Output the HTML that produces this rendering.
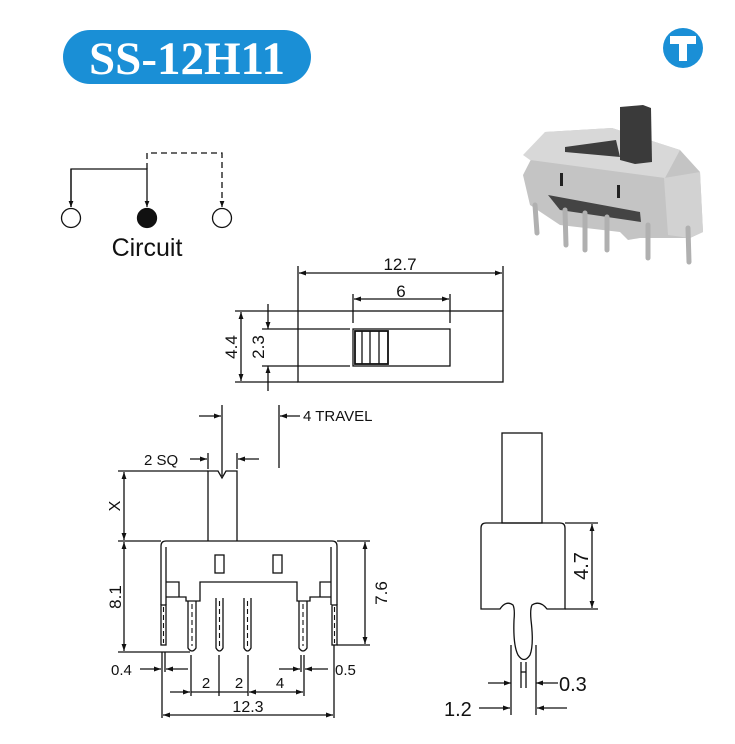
<!DOCTYPE html>
<html><head><meta charset="utf-8"><style>
html,body{margin:0;padding:0;background:#fff}
svg{display:block}
text{font-family:"Liberation Sans",Arial,sans-serif;fill:#111}
</style></head><body>
<svg width="735" height="744" viewBox="0 0 735 744" xmlns="http://www.w3.org/2000/svg">
<defs>
<marker id="a" viewBox="0 0 10 10" refX="10" refY="5" markerWidth="9" markerHeight="7" markerUnits="userSpaceOnUse" orient="auto-start-reverse"><path d="M0,1.5 L10,5 L0,8.5 z" fill="#111"/></marker>
<marker id="s" viewBox="0 0 10 10" refX="10" refY="5" markerWidth="6" markerHeight="6" markerUnits="userSpaceOnUse" orient="auto"><path d="M0,1 L10,5 L0,9 z" fill="#111"/></marker>
</defs>
<rect x="63" y="30" width="248" height="54" rx="27" fill="#1a8fd6"/>
<text x="187" y="74" text-anchor="middle" style="font-family:'Liberation Serif',serif;font-weight:bold;font-size:47px;fill:#fff">SS-12H11</text>
<circle cx="683" cy="48" r="20" fill="#1a8fd6"/>
<path d="M670,36 H696 V44 H687 V61 H679 V44 H670 z" fill="#fff"/>

<g stroke="#111" stroke-width="1.3" fill="none">
<polyline points="71,207 71,169 147,169 147,207" marker-end="url(#s)"/>
<line x1="71" y1="169" x2="71" y2="207" marker-end="url(#s)"/>
<polyline points="147,169 147,153 222,153 222,207" stroke-dasharray="6,4" marker-end="url(#s)"/>
<circle cx="71" cy="218" r="9.5"/>
<circle cx="222" cy="218" r="9.5"/>
<circle cx="147" cy="218" r="9.5" fill="#111"/>
</g>
<text x="147" y="256" text-anchor="middle" font-size="25">Circuit</text>

<!-- photo -->
<g>
<path d="M545,132 L612,128 L680,150 L700,172 L703,232 L690,238 L640,238 L628,240 L620,232 L560,225 L530,205 L523,175 Z" fill="#c4c4c4"/>
<path d="M545,132 L612,128 L680,150 L665,178 L530,160 L523,155 Z" fill="#d8d8d8"/>
<path d="M565,147 L616,140 L620,157 L565,152 Z" fill="#3d3d3d"/>
<path d="M620,107 L643,105 L651,108 L652,162 L635,164 L620,160 Z" fill="#3a3a3a"/>
<path d="M664,178 L700,172 L703,232 L690,238 L668,235 Z" fill="#d2d2d2"/>
<path d="M548,195 L640,212 L641,222 L560,210 Z" fill="#444"/>
<rect x="560" y="173" width="3" height="13" fill="#222"/>
<rect x="617" y="185" width="3" height="13" fill="#222"/>
<g stroke="#b0b0b0" stroke-width="5" stroke-linecap="round" fill="none">
<line x1="535" y1="205" x2="537" y2="233"/>
<line x1="565" y1="210" x2="566" y2="245"/>
<line x1="585" y1="213" x2="585" y2="250"/>
<line x1="607" y1="217" x2="607" y2="250"/>
<line x1="648" y1="225" x2="648" y2="258"/>
<line x1="688" y1="228" x2="689" y2="262"/>
</g>
</g>

<g stroke="#111" stroke-width="1.3" fill="none">
<rect x="298" y="311" width="205" height="71"/>
<rect x="353" y="329" width="97" height="37"/>
<rect x="355" y="331" width="33" height="33" stroke-width="1.8"/>
<line x1="362" y1="331" x2="362" y2="364"/><line x1="370" y1="331" x2="370" y2="364"/><line x1="379" y1="331" x2="379" y2="364"/>
<line x1="298" y1="266" x2="298" y2="311"/><line x1="503" y1="266" x2="503" y2="311"/>
<line x1="299" y1="273" x2="502" y2="273" marker-start="url(#a)" marker-end="url(#a)"/>
<line x1="353" y1="294" x2="353" y2="323"/><line x1="450" y1="294" x2="450" y2="323"/>
<line x1="354" y1="299" x2="449" y2="299" marker-start="url(#a)" marker-end="url(#a)"/>
<line x1="235" y1="311" x2="298" y2="311"/><line x1="235" y1="382" x2="298" y2="382"/>
<line x1="241" y1="312" x2="241" y2="381" marker-start="url(#a)" marker-end="url(#a)"/>
<line x1="262" y1="329" x2="350" y2="329"/><line x1="262" y1="366" x2="350" y2="366"/>
<line x1="268" y1="304" x2="268" y2="329" marker-end="url(#a)"/>
<line x1="268" y1="391" x2="268" y2="366" marker-end="url(#a)"/>

<path d="M208,541 V471 L218,471 L222,478 L226,471 L237,471 V541"/>
<line x1="222" y1="405" x2="222" y2="476"/>
<line x1="279" y1="405" x2="279" y2="468"/>
<line x1="199" y1="416" x2="221" y2="416" marker-end="url(#a)"/>
<line x1="300" y1="416" x2="280" y2="416" marker-end="url(#a)"/>
<line x1="190" y1="459" x2="207" y2="459" marker-end="url(#a)"/>
<line x1="259" y1="459" x2="238" y2="459" marker-end="url(#a)"/>
<line x1="208" y1="453" x2="208" y2="469"/><line x1="237" y1="453" x2="237" y2="469"/>
<path d="M161,605 V546 Q161,541 166,541 H332 Q337,541 337,546 V605"/>
<path d="M166,605 V547 M331,605 V547"/>
<path d="M166,582 H179 V597 H186 V601 H200 V582 H297 V601 H310 V597 H320 V582 H331 M166,597 H186 M310,597 H331 M320,597 V582"/>
<rect x="215" y="555" width="9" height="18"/>
<rect x="273" y="555" width="9" height="18"/>
<rect x="161" y="605" width="5" height="40"/>
<rect x="332" y="605" width="5" height="40"/>
<path d="M188,601 V648 Q192,654 196,648 V601"/>
<path d="M216,598 V648 Q219.5,654 223,648 V598"/>
<path d="M244,598 V648 Q247.5,654 251,648 V598"/>
<path d="M299,601 V648 Q303,654 307,648 V601"/>
<g stroke-dasharray="5,3" stroke-width="1.1">
<line x1="163.5" y1="607" x2="163.5" y2="643"/><line x1="334.5" y1="607" x2="334.5" y2="643"/>
<line x1="192" y1="604" x2="192" y2="646"/><line x1="219.5" y1="601" x2="219.5" y2="646"/>
<line x1="247.5" y1="601" x2="247.5" y2="646"/><line x1="303" y1="604" x2="303" y2="646"/>
</g>
<line x1="118" y1="471" x2="208" y2="471"/>
<line x1="118" y1="541" x2="161" y2="541"/>
<line x1="118" y1="652" x2="190" y2="652"/>
<line x1="124" y1="472" x2="124" y2="540" marker-start="url(#a)" marker-end="url(#a)"/>
<line x1="124" y1="542" x2="124" y2="651" marker-start="url(#a)" marker-end="url(#a)"/>
<line x1="337" y1="541" x2="370" y2="541"/>
<line x1="337" y1="645" x2="370" y2="645"/>
<line x1="365" y1="542" x2="365" y2="644" marker-start="url(#a)" marker-end="url(#a)"/>
<line x1="162" y1="652" x2="162" y2="718"/><line x1="165" y1="652" x2="165" y2="672"/>
<line x1="191" y1="655" x2="191" y2="696"/><line x1="219" y1="655" x2="219" y2="696"/>
<line x1="248" y1="655" x2="248" y2="696"/><line x1="304" y1="655" x2="304" y2="696"/>
<line x1="301" y1="655" x2="301" y2="672"/>
<line x1="334" y1="645" x2="334" y2="718"/>
<line x1="140" y1="669" x2="161" y2="669" marker-end="url(#a)"/>
<line x1="188" y1="669" x2="166" y2="669" marker-end="url(#a)"/>
<line x1="279" y1="669" x2="300" y2="669" marker-end="url(#a)"/>
<line x1="328" y1="669" x2="305" y2="669" marker-end="url(#a)"/>
<line x1="170" y1="692" x2="190" y2="692" marker-end="url(#a)"/>
<line x1="191" y1="692" x2="248" y2="692"/>
<line x1="249" y1="692" x2="303" y2="692" marker-start="url(#a)" marker-end="url(#a)"/>
<line x1="163" y1="715" x2="333" y2="715" marker-start="url(#a)" marker-end="url(#a)"/>

<rect x="502" y="433" width="40" height="90"/>
<path d="M481,609 V528 Q481,523 486,523 H560 Q565,523 565,528 V609 H547 Q540,600 532,605 Q530,609 531,620 Q534,645 530,655 Q524,664 518,655 Q513,645 514,620 Q515,609 513,605 Q506,600 500,609 Z"/>
<line x1="511" y1="645" x2="511" y2="715"/><line x1="536" y1="645" x2="536" y2="715"/>
<line x1="521" y1="662" x2="521" y2="688"/><line x1="526" y1="662" x2="526" y2="688"/>
<line x1="521" y1="672" x2="526" y2="672"/>
<line x1="565" y1="523" x2="598" y2="523"/><line x1="565" y1="609" x2="598" y2="609"/>
<line x1="592" y1="524" x2="592" y2="608" marker-start="url(#a)" marker-end="url(#a)"/>
<line x1="488" y1="683" x2="511" y2="683" marker-end="url(#a)"/>
<line x1="558" y1="683" x2="536" y2="683" marker-end="url(#a)"/>
<line x1="479" y1="708" x2="510" y2="708" marker-end="url(#a)"/>
<line x1="567" y1="708" x2="537" y2="708" marker-end="url(#a)"/>
</g>

<g font-size="17">
<text x="400" y="270" text-anchor="middle">12.7</text>
<text x="401" y="297" text-anchor="middle">6</text>
<text transform="translate(237,347) rotate(-90)" text-anchor="middle">4.4</text>
<text transform="translate(264,347) rotate(-90)" text-anchor="middle">2.3</text>
<text x="303" y="421" font-size="15">4 TRAVEL</text>
<text x="144" y="465" font-size="15">2 SQ</text>
<text transform="translate(120,506) rotate(-90)" text-anchor="middle" font-size="16">X</text>
<text transform="translate(121,597) rotate(-90)" text-anchor="middle" font-size="17">8.1</text>
<text transform="translate(387,593) rotate(-90)" text-anchor="middle" font-size="17">7.6</text>
<text x="111" y="675" font-size="15">0.4</text>
<text x="335" y="675" font-size="15">0.5</text>
<text x="206" y="688" text-anchor="middle" font-size="15">2</text>
<text x="239" y="688" text-anchor="middle" font-size="15">2</text>
<text x="280" y="688" text-anchor="middle" font-size="15">4</text>
<text x="248" y="712" text-anchor="middle" font-size="16">12.3</text>
<text transform="translate(588,566) rotate(-90)" text-anchor="middle" font-size="20">4.7</text>
<text x="559" y="691" font-size="20">0.3</text>
<text x="444" y="716" font-size="20">1.2</text>
</g>
</svg>
</body></html>
